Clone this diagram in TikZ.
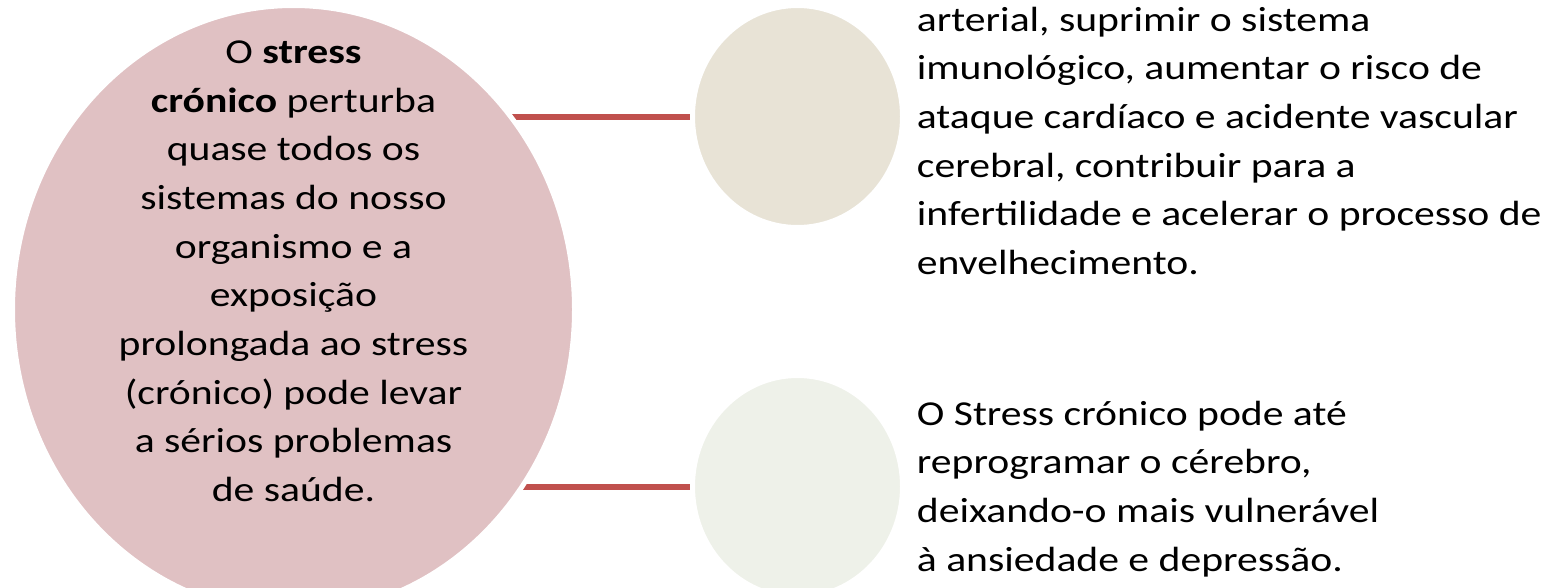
\documentclass[tikz,border=0pt]{standalone}
\usepackage{fontspec}
\setmainfont{Carlito}[FakeStretch=1.19]
\usetikzlibrary{shapes.geometric,backgrounds}
\definecolor{pinkfill}{HTML}{E0C1C3}
\definecolor{beigefill}{HTML}{E8E3D6}
\definecolor{sagefill}{HTML}{EEF1E9}
\definecolor{linkred}{HTML}{C0504D}
\begin{document}
\begin{tikzpicture}[x=1pt,y=-1pt,
  bubble/.style={ellipse, draw=white, line width=5pt, inner sep=0pt},
  link/.style={draw=linkred, line width=6pt},
  body/.style={inner sep=0pt, font=\fontsize{35}{48.7}\selectfont}]
  \useasboundingbox (0,0) rectangle (1554,587);
  % circles; the white rim leaves a small gap to the connectors
  \node[bubble, fill=pinkfill, minimum width=562pt, minimum height=608.2pt] (main) at (293.5,309.6) {};
  \node[bubble, fill=beigefill, minimum width=210pt, minimum height=222pt] (upper) at (797.5,116.5) {};
  \node[bubble, fill=sagefill, minimum width=210pt, minimum height=222pt] (lower) at (797.5,486.5) {};
  % connectors run underneath the circles
  \begin{pgfonlayer}{background}
    \draw[link] (upper.center) -- (upper.center -| main.center);
    \draw[link] (lower.center) -- (lower.center -| main.center);
  \end{pgfonlayer}
  % texts (anchored at the baseline of their last line)
  \node[body, align=center, anchor=base] (maintext) at (293.5,501.6)
    {O \textbf{stress}\\ \textbf{crónico} perturba\\ quase todos os\\ sistemas do nosso\\ organismo e a\\ exposição\\ prolongada ao stress\\ (crónico) pode levar\\ a sérios problemas\\ de saúde.};
  \node[body, align=left, anchor=base west] (uppertext) at (916.7,274.5)
    {arterial, suprimir o sistema\\ imunológico, aumentar o risco de\\ ataque cardíaco e acidente vascular\\ cerebral, contribuir para a\\ infertilidade e acelerar o processo de\\ envelhecimento.};
  \node[body, align=left, anchor=base west] (lowertext) at (916.7,571.1)
    {O Stress crónico pode até\\ reprogramar o cérebro,\\ deixando-o mais vulnerável\\ à ansiedade e depressão.};
\end{tikzpicture}
\end{document}
